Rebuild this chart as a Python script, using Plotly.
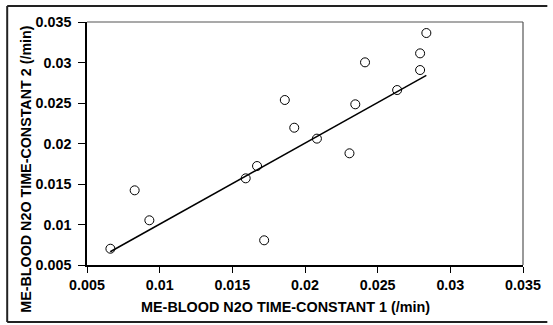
import plotly.graph_objects as go

# Data
tc1 = [0.00661, 0.00828, 0.00929, 0.01592, 0.01670, 0.01719, 0.01861, 0.01926,
       0.02082, 0.02306, 0.02346, 0.02413, 0.02634, 0.02792, 0.02792, 0.02835]
tc2 = [0.00701, 0.01422, 0.01052, 0.01570, 0.01722, 0.00805, 0.02537, 0.02195,
       0.02060, 0.01879, 0.02484, 0.03002, 0.02660, 0.02907, 0.03113, 0.03364]

# Fitted line end points
fit_x = [0.0066, 0.02835]
fit_y = [0.00664, 0.02840]

tick_vals = [0.005, 0.01, 0.015, 0.02, 0.025, 0.03, 0.035]
tick_text = ["0.005", "0.01", "0.015", "0.02", "0.025", "0.03", "0.035"]

x_title = "ME-BLOOD N2O TIME-CONSTANT 1 (/min)"
y_title = "ME-BLOOD N2O TIME-CONSTANT 2 (/min)"

FONT = "Arial, Liberation Sans, sans-serif"

fig = go.Figure()
fig.add_trace(go.Scatter(x=fit_x, y=fit_y, mode="lines",
                         line=dict(color="black", width=1.5),
                         showlegend=False, hoverinfo="skip"))
fig.add_trace(go.Scatter(x=tc1, y=tc2, mode="markers",
                         marker=dict(symbol="circle-open", size=9,
                                     color="black", line=dict(width=1)),
                         showlegend=False))

L, R, T, B = 87, 535, 22, 265
W, H = 553, 325

def px(xp):
    return (xp - L) / (R - L)

def py(yp):
    return (B - yp) / (B - T)

axis_common = dict(
    tickvals=tick_vals, ticktext=tick_text,
    showgrid=False, zeroline=False,
    showline=True, linecolor="black", linewidth=1.5,
    ticks="outside", tickcolor="black", tickwidth=1,
    tickfont=dict(family=FONT, size=14.3, color="black", weight="bold"),
    range=[0.005, 0.035],
)

frame = dict(color="#222222", width=2)
fx0, fx1, fy0, fy1 = px(5), px(560), py(322), py(6)

fig.update_layout(
    width=W, height=H,
    margin=dict(l=L, r=W - R, t=T, b=H - B),
    paper_bgcolor="white", plot_bgcolor="white",
    xaxis=dict(axis_common, ticklen=6),
    yaxis=dict(axis_common, ticklen=7, ticklabelstandoff=4),
    shapes=[
        # outer frame
        dict(type="line", xref="paper", yref="paper", x0=fx0, x1=fx1, y0=fy1, y1=fy1, line=frame),
        dict(type="line", xref="paper", yref="paper", x0=fx0, x1=fx1, y0=fy0, y1=fy0, line=frame),
        dict(type="line", xref="paper", yref="paper", x0=fx0, x1=fx0, y0=fy0, y1=fy1, line=frame),
        # top and right plot borders
        dict(type="line", xref="paper", yref="paper",
             x0=0, x1=1, y0=1, y1=1, line=dict(color="#555555", width=1.2)),
        dict(type="line", xref="paper", yref="paper",
             x0=1, x1=1, y0=0, y1=1, line=dict(color="#555555", width=1.2)),
    ],
    annotations=[
        dict(text=x_title, xref="paper", yref="paper",
             x=px(290.5), y=py(306.7), showarrow=False,
             xanchor="center", yanchor="middle",
             font=dict(family=FONT, size=14.4, color="black", weight="bold")),
        dict(text=y_title, xref="paper", yref="paper",
             x=px(24), y=py(169), showarrow=False, textangle=-90,
             xanchor="center", yanchor="middle",
             font=dict(family=FONT, size=14.3, color="black", weight="bold")),
    ],
)

fig.write_html("out.html", config={"displayModeBar": False},
               post_script="document.body.style.margin='0';document.body.style.overflow='hidden';")
